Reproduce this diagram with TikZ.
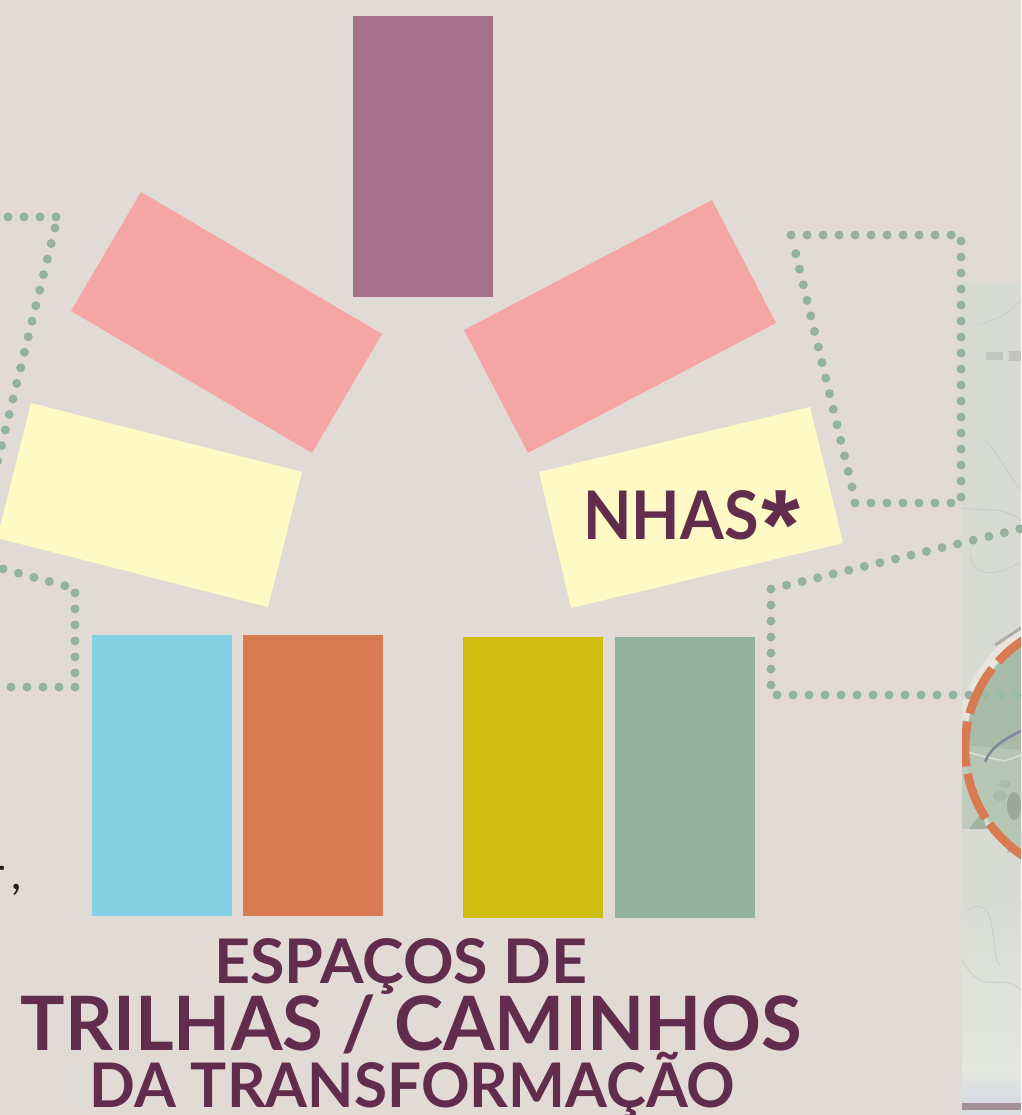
\documentclass[tikz,border=0pt]{standalone}
\usepackage{fontspec}
\usepackage{graphicx}
\setmainfont{Lato}
\newfontfamily\starfont{Liberation Sans}
\definecolor{bgc}{HTML}{E2DAD4}
\definecolor{plum}{HTML}{622D4D}
\definecolor{mauve}{HTML}{A67088}
\definecolor{rosa}{HTML}{F6A5A5}
\definecolor{creme}{HTML}{FFFAC5}
\definecolor{ceu}{HTML}{84D1E3}
\definecolor{laranja}{HTML}{D97B52}
\definecolor{mostarda}{HTML}{CEBD0E}
\definecolor{salvia}{HTML}{93B2A0}
\definecolor{softgreen}{HTML}{98BCA6}
\definecolor{mapa}{HTML}{D8DBD4}
\definecolor{mapb}{HTML}{E4E7E0}
\definecolor{mata}{HTML}{A8BBA9}
\definecolor{matb}{HTML}{B6C6B4}
\definecolor{halo}{HTML}{E8E6DC}
\definecolor{ink}{HTML}{2A1D1A}
\tikzset{
  x=1pt,y=-1pt,
  dots/.style={draw=salvia,line width=9pt,line cap=round,dash pattern=on 0pt off 16pt},
  softdots/.style={dots,draw=softgreen},
  title/.style={text=plum,inner sep=0pt,anchor=base},
  maplines/.style={draw=gray!25!mapa,line width=.9pt,opacity=.6},
  ringarc/.style={draw=laranja,line width=8.6pt},
}
\begin{document}
\begin{tikzpicture}
\useasboundingbox (0,0) rectangle (1021,1115);
\fill[bgc] (0,0) rectangle (1021,1115);
% map strip
\fill[mapa] (962,282) rectangle (1021,900);
\shade[top color=mapa,bottom color=mapb] (962,900) rectangle (1021,1070);
\shade[top color=mapb,bottom color=blue!6!mapb] (962,1070) rectangle (1021,1103);
\draw[maplines] (978,325) .. controls (990,320) and (1000,322) .. (1021,300);
\draw[maplines] (985,440) .. controls (1000,455) and (1005,470) .. (1021,490);
\draw[maplines] (962,508) .. controls (985,512) and (1000,505) .. (1021,520);
\draw[maplines] (970,555) .. controls (975,580) and (1000,575) .. (1021,562);
\draw[maplines] (968,910) .. controls (1000,890) and (990,960) .. (1000,965);
\draw[maplines] (962,960) .. controls (985,1000) and (1000,970) .. (1021,990);
\fill[gray!25!mapa] (986,352) rectangle (1003,360);
\fill[gray!25!mapa] (1009,351) rectangle (1021,361);
\fill[mauve!45!gray!75!mapa] (962,1103) rectangle (1021,1110);
\fill[blue!5!mapb] (962,1110) rectangle (1021,1115);
% map circle
\begin{scope}
\clip (962,282) rectangle (1021,1115);
\fill[matb!70!mapa] (962,705) rectangle (985,829);
\draw[halo,line width=11pt] (1094,748) ++(192:134) arc (192:240:134);
\draw[mauve!35!gray!70!mapa,line width=3pt,opacity=.7] (995,645) -- (1021,628);
\fill[mata!90!black,opacity=.7] (969,829) -- (988,829) -- (980,815) -- cycle;
\fill[mata!90!black,opacity=.7] (1007,852) -- (1021,852) -- (1021,830) -- cycle;
\fill[mata] (1094,748) circle (128);
\begin{scope}
\clip (1094,748) circle (128);
\fill[matb] (962,745) -- (1021,750) -- (1021,880) -- (962,880) -- cycle;
\fill[mata] (1005,784) ellipse (6 and 4);
\fill[mata] (1000,796) ellipse (7 and 5);
\fill[mata!80!black,opacity=.6] (1014,806) ellipse (7 and 14);
\draw[white!45!matb,line width=1.5pt] (968,752) -- (985,757) -- (1005,761) -- (1021,755);
\draw[blue!20!gray!60!mata,line width=2.6pt] (985,762) .. controls (990,748) and (1003,740) .. (1021,731);
\end{scope}
\end{scope}
% dotted lines
\draw[dots] (791,235) -- (952,235);
\draw[dots] (961,241) -- (961,498);
\draw[dots] (951,503) -- (854,503);
\draw[dots] (852,487) -- (795.6,253);
\draw[dots] (771,589) -- (1040,524);
\draw[dots] (771,605) -- (771,686);
\draw[dots] (777,695) -- (970,695);
\draw[softdots] (985,695) -- (1021,695);
\draw[dots] (8,217) -- (57,217);
\draw[dots] (55,228) -- (-6,476);
\draw[dots] (3,569) -- (66,586);
\draw[dots] (75,593) -- (75,674);
\draw[dots] (75,687) -- (-6,687);
% ring
\begin{scope}
\clip (962,282) rectangle (1021,1115);
\foreach \a/\b in {168.5/147, 191.8/171.8, 218/195.5, 244/222, 144/122, 270/248}
  \draw[ringarc] (1094,748) ++(\a:129) arc (\a:\b:129);
\end{scope}
% blocks
\fill[mauve] (353,16) rectangle (493,297);
\fill[rosa] (141,192) -- (382,334) -- (312,453) -- (71,311) -- cycle;
\fill[rosa] (712,200) -- (776,323) -- (528,453) -- (464,330) -- cycle;
\fill[creme] (31,403) -- (302,472) -- (268,607) -- (-3,538) -- cycle;
\fill[creme] (810,407) -- (843,543) -- (571,608) -- (539,472) -- cycle;
\fill[ceu] (92,635) rectangle (232,916);
\fill[laranja] (243,635) rectangle (383,916);
\fill[mostarda] (463,637) rectangle (603,918);
\fill[salvia] (615,637) rectangle (755,918);
% text
\node[title,anchor=base west,font=\bfseries\fontsize{67}{67}\selectfont] (nhas) at (583,539) {\scalebox{.94}[1]{NHAS}\hspace{3pt}\raisebox{-20pt}{\starfont\bfseries\fontsize{100}{100}\selectfont *}};
\node[title,font=\bfseries\fontsize{61.5}{62}\selectfont] (l1) at (400.5,983) {\scalebox{1.02}[1]{ESPAÇOS DE}};
\node[title,font=\bfseries\fontsize{75}{75}\selectfont] (l2) at (411.5,1050) {\scalebox{.99}[1]{TRILHAS / CAMINHOS}};
\node[title,font=\bfseries\fontsize{61.5}{62}\selectfont] (l3) at (412.5,1107) {\scalebox{.98}[1]{DA TRANSFORMAÇÃO}};
\node[inner sep=0pt,anchor=base east,text=ink,font=\fontsize{45}{45}\selectfont] (frag) at (22,889) {r\hspace{7pt},};
\end{tikzpicture}
\end{document}
